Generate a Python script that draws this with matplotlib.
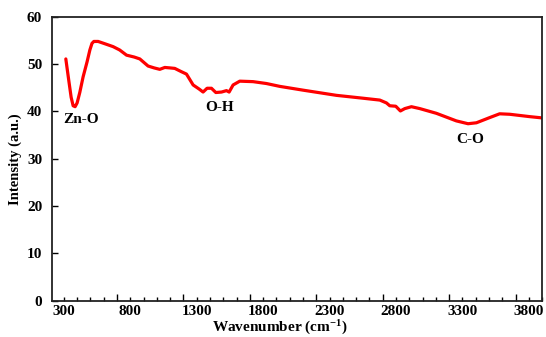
import matplotlib
matplotlib.use("Agg")
import matplotlib.pyplot as plt
from matplotlib.ticker import MultipleLocator, FixedLocator

plt.rcParams['font.family'] = ['Liberation Serif', 'DejaVu Serif']
plt.rcParams['font.weight'] = 'bold'
plt.rcParams['mathtext.fontset'] = 'custom'
plt.rcParams['mathtext.rm'] = 'Liberation Serif:bold'
plt.rcParams['mathtext.bf'] = 'Liberation Serif:bold'
plt.rcParams['mathtext.default'] = 'bf'

# FTIR spectrum
wavenumber = [315, 335, 355, 370, 385, 400, 420, 445, 475, 496, 512, 526, 558, 610, 671,
              720, 772, 830, 872, 934, 980, 1022, 1060, 1100, 1135, 1185, 1223, 1273,
              1320, 1348, 1378, 1411, 1444, 1487, 1524, 1544, 1574, 1624, 1724, 1825,
              1925, 2100, 2352, 2550, 2678, 2728, 2753, 2798, 2833, 2866, 2916, 2979,
              3104, 3254, 3342, 3405, 3505, 3580, 3656, 3806, 3910]
intensity = [51.1, 47.0, 43.0, 41.2, 41.0, 41.8, 44.0, 47.3, 50.5, 53.0, 54.4, 54.8, 54.8, 54.3, 53.7,
             53.0, 51.9, 51.5, 51.1, 49.6, 49.2, 48.9, 49.3, 49.2, 49.1, 48.4, 47.9, 45.6,
             44.7, 44.1, 44.9, 44.9, 44.0, 44.1, 44.4, 44.1, 45.6, 46.4, 46.3, 45.9,
             45.3, 44.5, 43.4, 42.8, 42.4, 41.8, 41.2, 41.1, 40.1, 40.6, 41.0, 40.6,
             39.6, 38.0, 37.4, 37.6, 38.7, 39.5, 39.4, 38.9, 38.6]

peak_labels = ['Zn-O', 'O-H', 'C-O']
peak_x = [428, 1474, 3355]
peak_y = [38.2, 40.8, 34.1]

tick_labels = [300, 800, 1300, 1800, 2300, 2800, 3300, 3800]

fig = plt.figure(figsize=(5.46, 3.37), dpi=100)
ax = fig.add_axes([0.095, 0.108, 0.898, 0.842])
ax.plot(wavenumber, intensity, color='#ff0000', lw=2.3, solid_capstyle='round')

for lab, x, y in zip(peak_labels, peak_x, peak_y):
    ax.text(x, y, lab, fontsize=11, fontweight='bold', ha='center', va='center')

ax.set_xlim(210, 3900)
ax.set_ylim(0, 60)
ax.yaxis.set_major_locator(MultipleLocator(10))
ax.xaxis.set_major_locator(FixedLocator(range(700, 3900, 500)))
ax.xaxis.set_minor_locator(MultipleLocator(100))
ax.tick_params(axis='x', which='major', direction='in', length=5, width=1, labelbottom=False)
ax.tick_params(axis='x', which='minor', direction='in', length=3, width=1)
ax.tick_params(axis='y', direction='in', length=4, width=1, labelsize=11, pad=7)
for lbl in ax.get_yticklabels():
    lbl.set_fontweight('bold')

sec = ax.secondary_xaxis('bottom')
sec.set_xticks(tick_labels)
sec.set_xticklabels([str(t) for t in tick_labels], fontsize=11, fontweight='bold')
sec.tick_params(length=0, pad=3)
sec.spines['bottom'].set_visible(False)

for s in ax.spines.values():
    s.set_linewidth(1.3)
    s.set_color('#222222')

# x label placed by hand so it fits between the tick labels and the bottom edge
fig.text(0.513, 0.014, 'Wavenumber (cm$^{-1}$)', fontsize=11, fontweight='bold',
         ha='center', va='baseline')
ax.set_ylabel('Intensity (a.u.)', fontsize=10.5, fontweight='bold', va='center')
ax.yaxis.set_label_coords(-0.075, 0.5)

fig.savefig('out.png', dpi=100)
